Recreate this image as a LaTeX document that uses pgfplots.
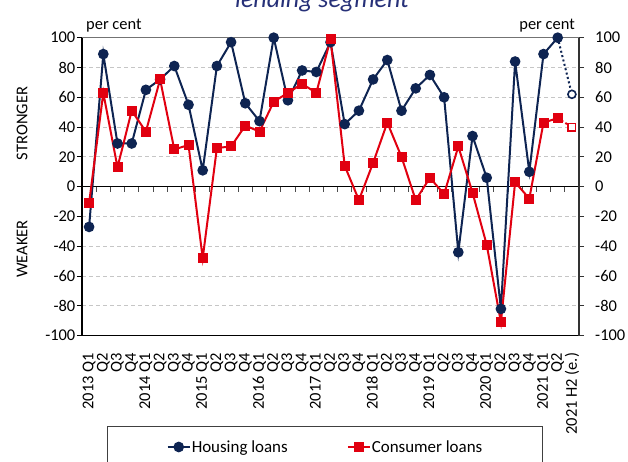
\documentclass[border=0pt]{standalone}
\usepackage{fontspec}
\setmainfont{Carlito}
\usepackage{pgfplots}
\pgfplotsset{compat=1.18}

\definecolor{navy}{RGB}{14,36,82}
\definecolor{cred}{RGB}{225,0,16}
\definecolor{titleblue}{RGB}{38,48,120}
\newcommand{\lbl}{\fontsize{16.5}{18}\selectfont}

\pgfplotsset{
  base/.style={
    at={(0,0)}, anchor=south west,
    scale only axis, width=497bp, height=298bp,
    xmin=0.5, xmax=35.5, ymin=-100, ymax=100,
    ytick={-100,-80,...,100},
    tick align=outside,
    major tick length=5bp,
    axis line style={-},
    tick label style={font=\lbl},
    /pgf/number format/assume math mode=true,
  }
}

\begin{document}
\begin{tikzpicture}[x=1bp,y=1bp]
\begin{axis}[
  base,
  axis y line*=left,
  axis x line*=bottom,
  y axis line style={black, line width=1.2bp},
  x axis line style={black, line width=1.2bp},
  ytick style={black, line width=0.8bp},
  xtick={1,...,35},
  x tick style={draw=none},
  xticklabels={2013 Q1, Q2, Q3, Q4, 2014 Q1, Q2, Q3, Q4, 2015 Q1, Q2, Q3, Q4,
    2016 Q1, Q2, Q3, Q4, 2017 Q1, Q2, Q3, Q4, 2018 Q1, Q2, Q3, Q4,
    2019 Q1, Q2, Q3, Q4, 2020 Q1, Q2, Q3, Q4, 2021 Q1, Q2, 2021 H2 (e.)},
  xticklabel style={yshift=-10bp, rotate=90, anchor=east, inner sep=2bp},
  yticklabel style={inner sep=1.5bp},
  ymajorgrids,
  grid style={gray!45, dash pattern=on 4bp off 3bp, line width=0.8bp},
  legend columns=2,
  legend style={at={(0.489,-0.3735)}, anchor=center, draw=none, fill=none,
    font=\fontsize{17}{19}\selectfont,
    nodes={inner sep=1bp},
    /tikz/every even column/.append style={column sep=58bp}},
  legend image code/.code={
    \draw[mark repeat=2, mark phase=2] plot coordinates {(0bp,0bp) (11bp,0bp) (22bp,0bp)};},
]
% top border and zero line
\draw[gray!90!black, line width=1.6bp] (rel axis cs:0,1) -- (rel axis cs:1,1);
\draw[black, line width=1.2bp] (axis cs:0.5,0) -- (axis cs:35.5,0);
\pgfplotsinvokeforeach{1.5,2.5,...,34.5}{
  \draw[black!70, line width=0.8bp] (axis cs:#1,0) -- ([yshift=-5.5bp]axis cs:#1,0);
}

\addplot[navy, line width=2bp, mark=*, mark size=4.3bp] coordinates {
  (1,-27) (2,89) (3,29) (4,29) (5,65) (6,72) (7,81) (8,55) (9,11) (10,81)
  (11,97) (12,56) (13,44) (14,100) (15,58) (16,78) (17,77) (18,97) (19,42) (20,51)
  (21,72) (22,85) (23,51) (24,66) (25,75) (26,60) (27,-44) (28,34) (29,6) (30,-82)
  (31,84) (32,10) (33,89) (34,100)
};
\addlegendentry{Housing loans}
\addplot[cred, line width=2bp, mark=square*, mark size=4bp] coordinates {
  (1,-11) (2,63) (3,13) (4,51) (5,37) (6,72) (7,25) (8,28) (9,-48) (10,26)
  (11,27) (12,41) (13,37) (14,57) (15,63) (16,69) (17,63) (18,99) (19,14) (20,-9)
  (21,16) (22,43) (23,20) (24,-9) (25,6) (26,-5) (27,27) (28,-4) (29,-39) (30,-91)
  (31,3) (32,-8) (33,43) (34,46)
};
\addlegendentry{Consumer loans}

\addplot[navy, line width=2bp, dash pattern=on 2bp off 2.5bp, mark=*, mark size=4bp,
  mark indices={2}, mark options={solid, fill=white, line width=1.6bp}, forget plot]
  coordinates {(34,100) (35,62)};
\addplot[cred, line width=2bp, dash pattern=on 2bp off 2.5bp, mark=square*, mark size=3.8bp,
  mark indices={2}, mark options={solid, fill=white, line width=1.4bp}, forget plot]
  coordinates {(34,46) (35,40)};
\end{axis}

\begin{axis}[
  base,
  axis y line*=right,
  axis x line=none,
  y axis line style={black!80, line width=1.2bp},
  ytick style={black!80, line width=0.8bp},
  yticklabel style={inner sep=3bp, xshift=8bp},
]
\end{axis}

% texts around the plot
\node[font=\fontsize{26}{28}\selectfont\itshape, text=titleblue, anchor=base] at (240,327.7) {lending segment};
\node[font=\lbl, anchor=base west, inner sep=0pt] at (4,305.7) {per cent};
\node[font=\lbl, anchor=base east, inner sep=0pt] at (493,305.7) {per cent};
\node[font=\lbl, rotate=90] at (-60,212.2) {STRONGER};
\node[font=\lbl, rotate=90] at (-60,86.7) {WEAKER};
\draw[black!75, line width=1bp] (25,-160) -- (25,-91.3) -- (460,-91.3) -- (460,-160);

\pgfresetboundingbox
\useasboundingbox (-82,-126.3) rectangle (546,335.7);
\end{tikzpicture}
\end{document}
